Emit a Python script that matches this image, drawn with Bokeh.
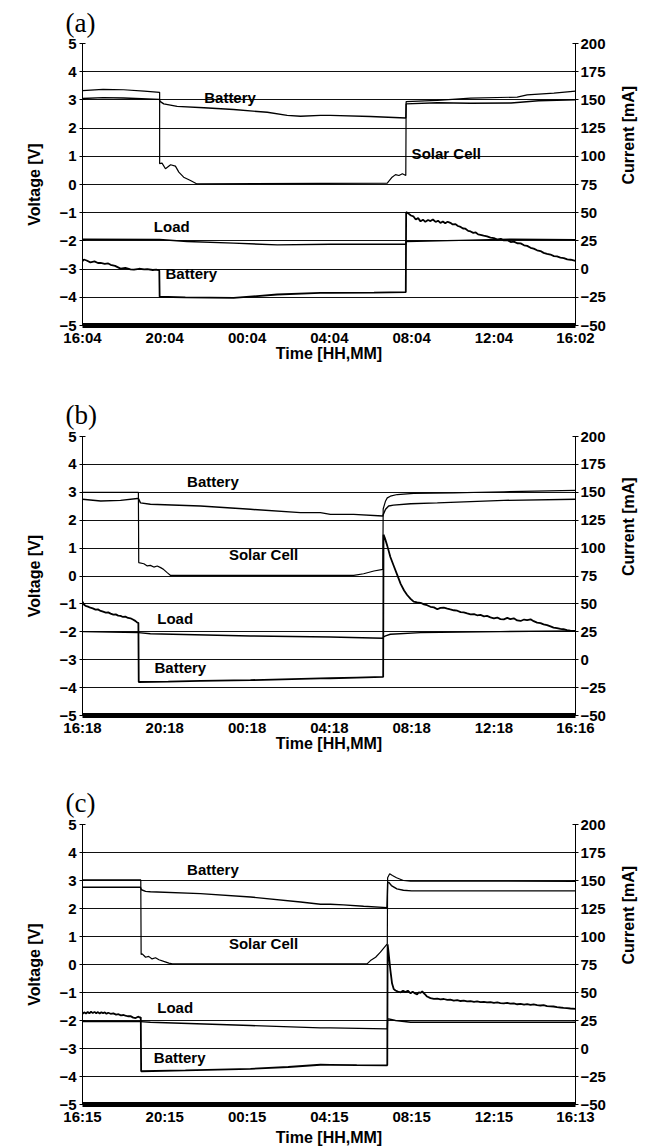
import math
from bokeh.plotting import figure
from bokeh.models import Range1d, LinearAxis, FixedTicker, Label, Title
from bokeh.layouts import column
from bokeh.embed import file_html
from bokeh.resources import INLINE

# ---------------- shared axes ----------------
TIME_TICKS = [0, 240, 480, 720, 960, 1200, 1438]          # minutes from start
VOLT_TICKS = [-5, -4, -3, -2, -1, 0, 1, 2, 3, 4, 5]
CURR_TICKS = [-50, -25, 0, 25, 50, 75, 100, 125, 150, 175, 200]

# ---------------- panel (a) ----------------
a_labels = ["16:04", "20:04", "00:04", "04:04", "08:04", "12:04", "16:02"]
a_solar_t = [0, 60, 120, 180, 225, 225, 232, 242, 257, 271, 281, 295, 315, 334, 889, 903, 913, 923, 933, 943, 944, 1035, 1132, 1268, 1297, 1375, 1438]
a_solar_v = [3.33, 3.37, 3.36, 3.31, 3.27, 0.74, 0.76, 0.56, 0.70, 0.65, 0.44, 0.26, 0.14, 0.02, 0.05, 0.26, 0.35, 0.32, 0.38, 0.32, 2.94, 2.98, 3.06, 3.10, 3.18, 3.24, 3.31]
a_batv_t = [0, 60, 120, 224, 226, 237, 276, 354, 441, 539, 597, 636, 694, 723, 840, 943, 944, 1035, 1132, 1250, 1330, 1438]
a_batv_v = [3.05, 3.08, 3.07, 3.02, 2.95, 2.86, 2.77, 2.72, 2.66, 2.56, 2.45, 2.42, 2.45, 2.45, 2.41, 2.36, 2.86, 2.90, 2.88, 2.89, 2.97, 3.00]
a_load_t = [0, 225, 305, 441, 568, 723, 943, 944, 1100, 1250, 1438]
a_load_i = [26.5, 26.2, 24.5, 23.0, 21.5, 22.0, 22.0, 24.5, 25.5, 26.5, 26.0]
a_ibat_t = [0, 4, 12, 23, 35, 45, 53, 65, 75, 82, 95, 111, 125, 140, 150, 165, 180, 189, 205, 215, 224, 225,
            300, 441, 568, 694, 723, 850, 943, 944, 952, 958, 965, 972, 979, 986, 993, 1000, 1008, 1015, 1022,
            1030, 1037, 1044, 1051, 1058, 1065, 1073, 1080, 1088, 1095, 1103, 1110, 1117, 1125, 1132, 1140,
            1147, 1154, 1161, 1170, 1180, 1190, 1200, 1210, 1220, 1229, 1239, 1249, 1258, 1268, 1278, 1288,
            1297, 1307, 1316, 1326, 1336, 1345, 1355, 1365, 1375, 1384, 1394, 1404, 1414, 1424, 1438]
a_ibat_i = [7.0, 8.5, 7.6, 6.0, 6.8, 5.4, 5.5, 4.6, 5.0, 3.8, 2.9, 0.4, 1.0, -0.2, -0.5, 0.3, -0.3, 0.0, -0.8, -0.4, -1.2, -24.5,
            -25.0, -25.5, -22.5, -21.0, -21.0, -20.8, -20.5, 50.5, 49.0, 47.5, 46.8, 44.0, 45.2, 42.3, 43.8, 41.9, 43.5, 42.6, 44.0,
            41.8, 42.9, 40.9, 42.2, 40.6, 42.0, 41.0, 39.6, 39.9, 38.2, 37.4, 36.0, 35.8, 33.9, 33.4, 32.1,
            32.5, 30.8, 30.4, 29.6, 29.0, 27.9, 27.4, 26.2, 26.9, 25.4, 25.8, 24.0, 24.4, 22.9, 22.8, 21.1,
            20.6, 18.9, 18.2, 16.7, 16.0, 14.4, 13.6, 12.9, 11.5, 11.2, 10.2, 9.8, 8.6, 8.3, 7.2]

# ---------------- panel (b) ----------------
b_labels = ["16:18", "20:18", "00:18", "04:18", "08:18", "12:18", "16:16"]
b_solar_t = [0, 163, 164, 179, 189, 198, 208, 218, 228, 237, 247, 257, 791, 820, 850, 876, 877, 884, 889, 898, 918, 966, 1083, 1229, 1438]
b_solar_v = [3.00, 3.00, 0.48, 0.44, 0.36, 0.38, 0.32, 0.36, 0.30, 0.23, 0.12, 0.02, 0.02, 0.08, 0.18, 0.24, 2.40, 2.69, 2.80, 2.86, 2.92, 2.96, 2.98, 3.02, 3.07]
b_batv_t = [0, 53, 111, 160, 164, 169, 198, 344, 490, 636, 694, 723, 791, 876, 877, 884, 893, 907, 957, 1035, 1229, 1438]
b_batv_v = [2.75, 2.69, 2.71, 2.78, 2.76, 2.62, 2.57, 2.51, 2.39, 2.27, 2.27, 2.21, 2.21, 2.15, 2.20, 2.39, 2.51, 2.54, 2.59, 2.62, 2.71, 2.75]
b_load_t = [0, 163, 198, 490, 723, 877, 878, 884, 898, 986, 1219, 1438]
b_load_i = [25.2, 24.3, 23.3, 21.3, 20.4, 19.2, 20.5, 21.3, 22.8, 24.3, 25.2, 25.8]
b_ibat_t = [0, 4, 9, 16, 23, 30, 38, 45, 53, 60, 68, 75, 82, 90, 97, 104, 111, 118, 125, 133, 140, 147, 154, 160, 163, 164,
            250, 344, 490, 694, 723, 800, 877, 878, 882, 889, 898, 908, 918, 928, 938, 947, 957, 966, 976, 986, 996,
            1005, 1015, 1025, 1035, 1044, 1054, 1064, 1073, 1083, 1093, 1103, 1112, 1122, 1132, 1142, 1151, 1161,
            1171, 1180, 1190, 1200, 1210, 1219, 1229, 1239, 1248, 1258, 1268, 1278, 1288, 1297, 1307, 1316, 1326,
            1336, 1345, 1355, 1365, 1374, 1384, 1394, 1403, 1413, 1423, 1438]
b_ibat_i = [52.0, 49.5, 48.2, 47.6, 46.6, 46.0, 44.9, 45.1, 43.7, 43.0, 42.2, 42.4, 41.3, 40.4, 40.6, 39.5, 39.2, 38.3, 38.6, 37.4, 37.1, 36.0, 34.8, 33.2, 33.0, -20.0,
            -19.6, -19.0, -18.3, -16.8, -16.6, -16.0, -15.4, 112.0, 109.0, 102.0, 92.0, 84.0, 76.0, 68.0, 62.0, 58.0, 54.5, 52.0, 51.3, 51.0, 49.6,
            48.8, 47.4, 46.9, 45.2, 46.4, 46.7, 45.8, 45.0, 44.3, 43.9, 42.6, 42.4, 41.5, 40.7, 40.9, 39.8, 40.1,
            38.9, 39.2, 38.0, 37.0, 37.8, 36.4, 36.2, 37.5, 36.3, 37.1, 35.2, 34.7, 36.0, 35.4, 36.2, 34.5, 33.2,
            32.8, 31.6, 30.9, 29.8, 28.7, 28.2, 27.6, 27.3, 26.4, 26.0, 25.8]

# ---------------- panel (c) ----------------
c_labels = ["16:15", "20:15", "00:15", "04:15", "08:15", "12:15", "16:13"]
c_solar_t = [0, 170, 171, 174, 179, 184, 193, 203, 213, 223, 237, 252, 262, 830, 840, 855, 869, 881, 889, 890, 896, 904, 916, 936, 957, 1438]
c_solar_v = [3.02, 3.02, 0.36, 0.38, 0.32, 0.26, 0.29, 0.20, 0.24, 0.17, 0.11, 0.05, 0.02, 0.02, 0.14, 0.26, 0.44, 0.62, 0.74, 3.10, 3.24, 3.18, 3.10, 3.00, 2.98, 2.97]
c_batv_t = [0, 169, 172, 184, 198, 344, 490, 636, 694, 723, 761, 820, 888, 890, 893, 901, 917, 936, 960, 1438]
c_batv_v = [2.76, 2.76, 2.67, 2.61, 2.60, 2.53, 2.41, 2.23, 2.15, 2.15, 2.13, 2.08, 2.03, 2.90, 2.94, 2.82, 2.70, 2.65, 2.63, 2.63]
c_load_t = [0, 169, 198, 490, 694, 723, 889, 890, 893, 913, 957, 1438]
c_load_i = [24.1, 24.0, 23.4, 20.5, 18.4, 18.4, 17.5, 26.0, 26.5, 25.0, 23.4, 23.4]
c_ibat_t = [0, 5, 10, 15, 20, 25, 30, 35, 40, 45, 50, 55, 60, 65, 70, 75, 82, 90, 98, 105, 112, 120, 125, 132, 140, 148, 155, 162, 168, 170, 171,
            300, 490, 600, 694, 723, 800, 889, 890, 893, 898, 903, 908, 913, 920, 928, 935, 942, 949, 957, 963, 970, 976, 981, 986, 991,
            996, 1000, 1005, 1015, 1025, 1035, 1044, 1054, 1064, 1073, 1083, 1093, 1103, 1112, 1122, 1132, 1142, 1151, 1161, 1171,
            1180, 1190, 1200, 1210, 1219, 1229, 1239, 1248, 1258, 1268, 1278, 1288, 1297, 1307, 1316, 1326, 1336, 1345, 1355, 1365,
            1374, 1384, 1394, 1403, 1413, 1423, 1438]
c_ibat_i = [31.0, 32.3, 31.2, 32.6, 31.4, 32.8, 31.6, 32.7, 31.5, 32.5, 31.3, 32.4, 31.6, 32.2, 31.0, 31.9, 31.0, 31.4, 30.3, 30.6, 29.6, 29.9, 29.4, 28.8, 28.9, 27.6, 27.2, 28.4, 27.6, 27.8, -20.3,
            -19.5, -18.2, -16.5, -14.5, -14.6, -14.8, -15.0, 93.0, 85.0, 70.0, 58.0, 53.0, 51.8, 50.8, 50.2, 51.6, 50.4, 51.6, 49.3, 50.8, 49.1, 48.4, 50.2, 49.7, 51.0,
            49.3, 48.0, 46.4, 45.0, 44.3, 44.6, 43.9, 44.2, 43.4, 43.6, 42.8, 43.2, 42.4, 42.7, 42.0, 42.2, 41.7, 42.0, 41.4, 41.6,
            41.1, 41.5, 40.8, 41.2, 40.6, 40.3, 40.7, 40.0, 40.2, 39.5, 39.8, 39.2, 39.6, 38.9, 39.3, 38.8, 38.4, 38.7, 37.9, 37.6,
            37.5, 37.0, 36.6, 36.3, 36.0, 35.7, 35.4]

SANS = "Liberation Sans"
SERIF = "Liberation Serif"


def make_panel(letter, labels, solar, batv, load, ibat, annots, top, fh, bottom,
               title_standoff, xlabel_standoff):
    p = figure(frame_width=493, frame_height=fh,
               x_range=Range1d(0, 1438), y_range=Range1d(-5, 5),
               output_backend="svg", toolbar_location=None,
               min_border_left=82, min_border_right=72,
               min_border_top=top, min_border_bottom=bottom,
               outline_line_color=None, background_fill_color="white",
               border_fill_color="white")
    p.extra_y_ranges = {"cur": Range1d(-50, 200)}

    p.title = Title(text=letter, text_font=SERIF, text_font_size="27px",
                    text_font_style="normal", align="left", offset=-17,
                    standoff=title_standoff, text_color="black")

    p.xgrid.visible = False
    p.ygrid.ticker = FixedTicker(ticks=VOLT_TICKS)
    p.ygrid.grid_line_color = "#111111"
    p.ygrid.grid_line_width = 1

    # x axis
    xa = p.xaxis[0]
    xa.ticker = FixedTicker(ticks=TIME_TICKS)
    xa.major_label_overrides = {t: s for t, s in zip(TIME_TICKS, labels)}
    xa.axis_line_width = 5
    xa.axis_line_color = "black"
    xa.major_tick_in = 0
    xa.major_tick_out = 0
    xa.minor_tick_in = 0
    xa.minor_tick_out = 0
    xa.major_label_standoff = 3
    xa.axis_label = "Time [HH,MM]"
    xa.axis_label_standoff = xlabel_standoff

    # left axis
    ya = p.yaxis[0]
    ya.ticker = FixedTicker(ticks=VOLT_TICKS)
    ya.axis_label = "Voltage [V]"
    ya.major_tick_in = 3
    ya.major_tick_out = 3
    ya.minor_tick_in = 0
    ya.minor_tick_out = 0
    ya.major_label_standoff = 3
    ya.axis_label_standoff = 13

    ra = LinearAxis(y_range_name="cur", ticker=FixedTicker(ticks=CURR_TICKS),
                    axis_label="Current [mA]")
    ra.major_tick_in = 3
    ra.major_tick_out = 3
    ra.minor_tick_in = 0
    ra.minor_tick_out = 0
    ra.major_label_standoff = 2
    ra.axis_label_standoff = 20
    ra.axis_label_orientation = math.pi / 2
    p.add_layout(ra, "right")

    for ax in (xa, ya, ra):
        ax.major_label_text_font = SANS
        ax.major_label_text_font_size = "15px"
        ax.major_label_text_font_style = "bold"
        ax.major_label_text_color = "black"
        ax.axis_label_text_font = SANS
        ax.axis_label_text_font_size = "16px"
        ax.axis_label_text_font_style = "bold"
        ax.axis_label_text_color = "black"
        ax.major_tick_line_color = "black"
        if ax is not xa:
            ax.axis_line_color = "black"

    p.line(solar[0], solar[1], line_color="black", line_width=1.2)
    p.line(batv[0], batv[1], line_color="black", line_width=1.4)
    p.line(load[0], load[1], y_range_name="cur", line_color="black", line_width=1.4)
    p.line(ibat[0], ibat[1], y_range_name="cur", line_color="black", line_width=1.8)

    for (tx, vy, txt) in annots:
        p.add_layout(Label(x=tx, y=vy, text=txt, text_font=SANS,
                           text_font_size="15px", text_font_style="bold",
                           text_baseline="middle", text_align="left",
                           text_color="black"))
    return p


pa = make_panel("(a)", a_labels, (a_solar_t, a_solar_v), (a_batv_t, a_batv_v),
                (a_load_t, a_load_i), (a_ibat_t, a_ibat_i),
                [(355, 3.1, "Battery"), (960, 1.1, "Solar Cell"),
                 (208, -1.5, "Load"), (242, -3.17, "Battery")],
                top=43, fh=282, bottom=66, title_standoff=11, xlabel_standoff=-4)
pb = make_panel("(b)", b_labels, (b_solar_t, b_solar_v), (b_batv_t, b_batv_v),
                (b_load_t, b_load_i), (b_ibat_t, b_ibat_i),
                [(305, 3.4, "Battery"), (427, 0.78, "Solar Cell"),
                 (218, -1.52, "Load"), (210, -3.29, "Battery")],
                top=45, fh=279, bottom=64, title_standoff=13, xlabel_standoff=-4)
pc = make_panel("(c)", c_labels, (c_solar_t, c_solar_v), (c_batv_t, c_batv_v),
                (c_load_t, c_load_i), (c_ibat_t, c_ibat_i),
                [(305, 3.4, "Battery"), (427, 0.76, "Solar Cell"),
                 (218, -1.52, "Load"), (208, -3.33, "Battery")],
                top=45, fh=280, bottom=44, title_standoff=13, xlabel_standoff=1)

layout = column(pa, pb, pc)
open("out.html", "w").write(file_html(layout, INLINE))
